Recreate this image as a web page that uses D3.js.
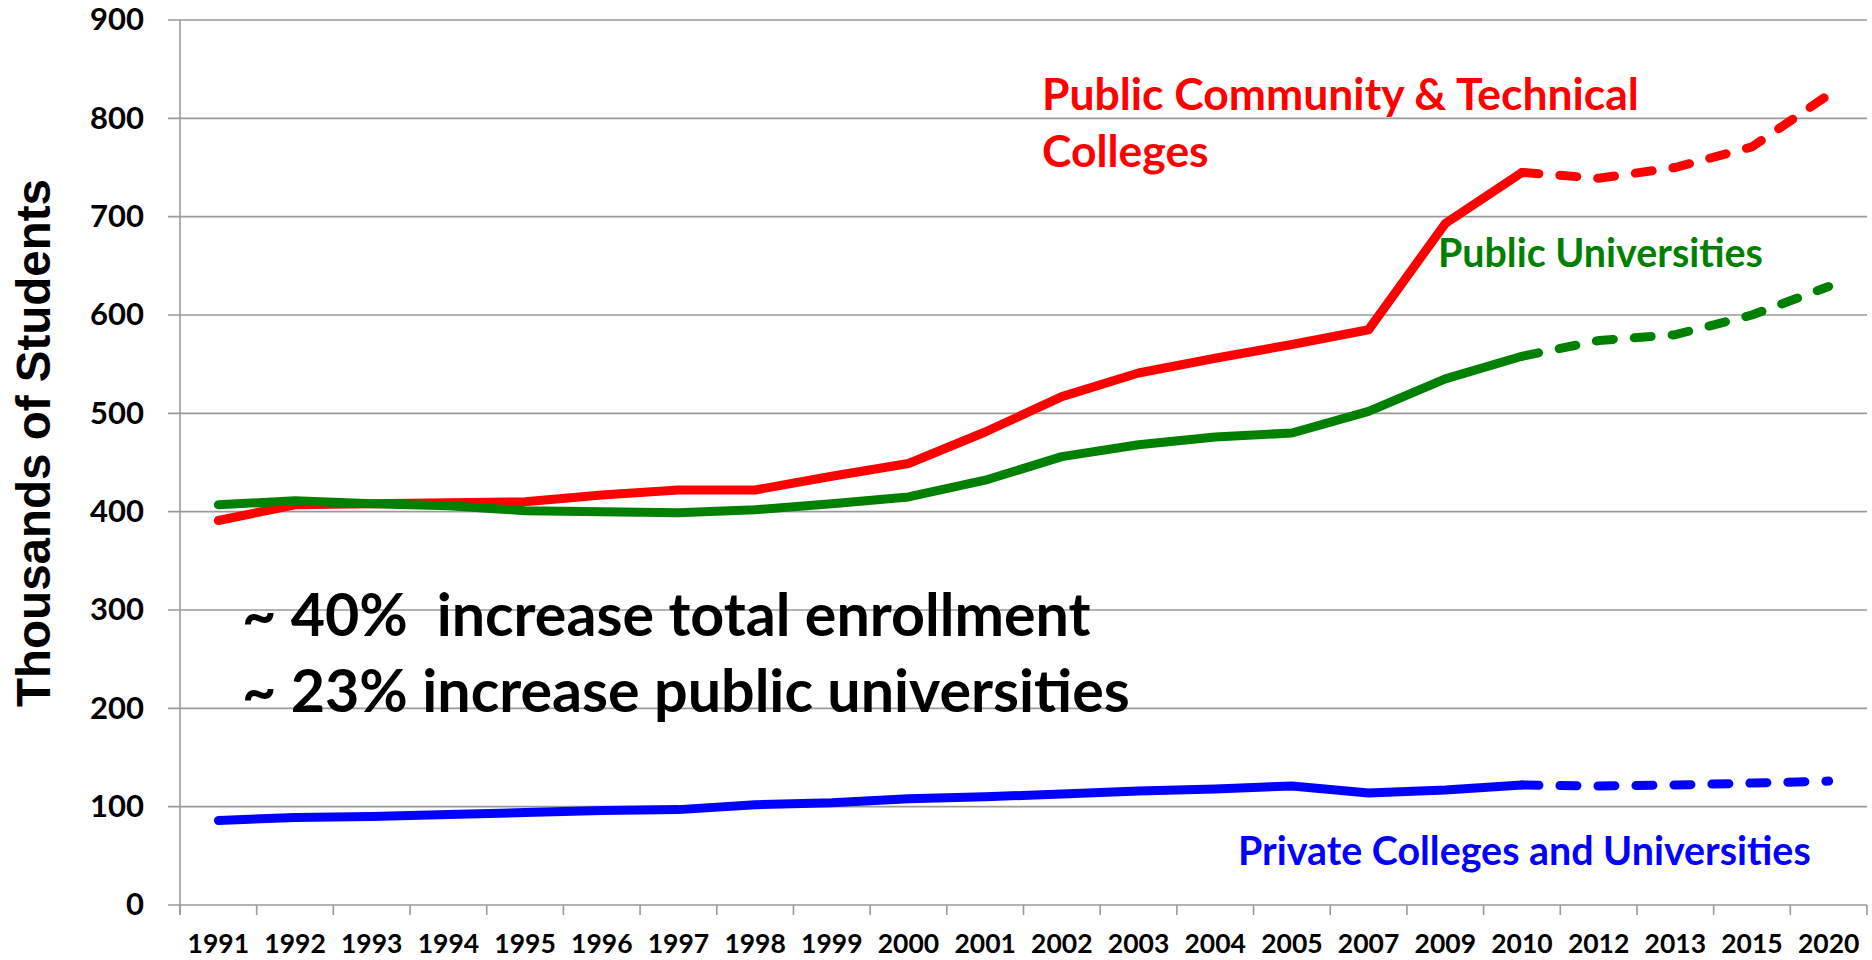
<!DOCTYPE html>
<html>
<head>
<meta charset="utf-8">
<script src="https://cdn.jsdelivr.net/npm/d3@7"></script>
<style>
  html, body { margin: 0; padding: 0; background: #fff; }
  svg { display: block; }
  text { white-space: pre; }
</style>
</head>
<body>
<svg id="chart" width="1872" height="960"></svg>
<script>
// ---------------- data ----------------
const categories = ["1991","1992","1993","1994","1995","1996","1997","1998","1999","2000",
  "2001","2002","2003","2004","2005","2007","2009","2010","2012","2013","2015","2020"];
const communityTechnical = [391, 407, 408, 409, 410, 417, 422, 422, 436, 449,
  481, 517, 541, 556, 570, 585, 693, 745, 739, 750, 771, 824];
const publicUniversities = [407, 411, 408, 406, 401, 400, 399, 402, 408, 415,
  432, 456, 468, 476, 480, 502, 535, 558, 574, 580, 600, 629];
const privateColleges = [86, 89, 90, 92, 94, 96, 97, 102, 104, 108,
  110, 113, 116, 118, 121, 114, 117, 122, 121, 122, 124, 126];
const yTicks = [0, 100, 200, 300, 400, 500, 600, 700, 800, 900];
const projectionFrom = "2010";
const yTitle = "Thousands of Students";
const seriesNames = {
  ct: ["Public Community & Technical", "Colleges"],
  pu: "Public Universities",
  pr: "Private Colleges and Universities"
};
const notes = ["~ 40%  increase total enrollment", "~ 23% increase public universities"];

// ---------------- layout ----------------
const svg = d3.select("#chart");
const L = 180, R = 1867, T = 20, B = 905;
const calib = "Lato, 'Open Sans', sans-serif";
const arialB = "'Liberation Sans', Arial, sans-serif";

const x = d3.scaleBand().domain(categories).range([L, R]).padding(0);
const y = d3.scaleLinear().domain([0, 900]).range([B, T]);
const bw = x.bandwidth();
const cx = c => x(c) + bw / 2;

// gridlines
svg.append("g").selectAll("line").data(yTicks).join("line")
  .attr("x1", L - 12).attr("x2", R)
  .attr("y1", d => y(d)).attr("y2", d => y(d))
  .attr("stroke", "#9a9a9a").attr("stroke-width", 1.6);

// y axis (labels)
const yAxis = svg.append("g").attr("transform", `translate(${L},0)`)
  .call(d3.axisLeft(y).tickValues(yTicks).tickSize(0).tickPadding(36).tickFormat(d3.format("d")));
yAxis.select(".domain").remove();
yAxis.selectAll("text").attr("font-family", calib).attr("font-weight", 700)
  .attr("font-size", 31).attr("fill", "#000");

// y axis line
svg.append("line").attr("x1", L).attr("x2", L).attr("y1", T).attr("y2", B + 10)
  .attr("stroke", "#9a9a9a").attr("stroke-width", 1.6);

// x ticks between categories
const bounds = d3.range(categories.length + 1).map(i => L + i * bw);
svg.append("g").selectAll("line").data(bounds).join("line")
  .attr("x1", d => d).attr("x2", d => d).attr("y1", B).attr("y2", B + 10)
  .attr("stroke", "#9a9a9a").attr("stroke-width", 1.6);

// x axis labels
const xAxis = svg.append("g").attr("transform", `translate(0,${B})`)
  .call(d3.axisBottom(x).tickSize(0).tickPadding(29));
xAxis.select(".domain").remove();
xAxis.selectAll("text").attr("font-family", calib).attr("font-weight", 700)
  .attr("font-size", 26.5).attr("fill", "#000");

// y title
const yt = svg.append("text").text(yTitle)
  .attr("font-family", arialB).attr("font-weight", 700).attr("font-size", 46)
  .attr("text-anchor", "middle").attr("fill", "#000")
  .attr("transform", `translate(50,443) rotate(-90)`);
function fit(sel, target) {
  const w = sel.node().getComputedTextLength();
  return parseFloat(sel.attr("font-size")) * target / w;
}
yt.attr("font-size", fit(yt, 528));

// lines
const series = [
  { vals: communityTechnical, color: "#ff0000" },
  { vals: publicUniversities, color: "#008000" },
  { vals: privateColleges, color: "#0000ff" }
];
const line = d3.line().x(d => cx(d.c)).y(d => y(d.v)).curve(d3.curveLinear);
const pIdx = categories.indexOf(projectionFrom);
series.forEach(s => {
  const pts = categories.map((c, i) => ({ c, v: s.vals[i] }));
  svg.append("path").datum(pts.slice(0, pIdx + 1)).attr("d", line)
    .attr("fill", "none").attr("stroke", s.color).attr("stroke-width", 9)
    .attr("stroke-linecap", "round").attr("stroke-linejoin", "round");
  svg.append("path").datum(pts.slice(pIdx)).attr("d", line)
    .attr("fill", "none").attr("stroke", s.color).attr("stroke-width", 9)
    .attr("stroke-linecap", "round").attr("stroke-linejoin", "round")
    .attr("stroke-dasharray", "17 21");
});

// series labels
function label(txt, px, py, color, size) {
  return svg.append("text").text(txt).attr("x", px).attr("y", py)
    .attr("font-family", calib).attr("font-weight", 700).attr("font-size", size)
    .attr("fill", color);
}
const ct1 = label(seriesNames.ct[0], 1042, 110, "#ff0000", 44);
const ctSize = fit(ct1, 597);
ct1.attr("font-size", ctSize);
label(seriesNames.ct[1], 1042, 167, "#ff0000", ctSize);

const pu = label(seriesNames.pu, 1438, 267, "#008000", 38);
pu.attr("font-size", fit(pu, 325));

const pr = label(seriesNames.pr, 1238, 865, "#0000ff", 38);
pr.attr("font-size", fit(pr, 573));

// annotation
const n2 = label(notes[1], 242, 712, "#000", 56);
const nSize = fit(n2, 888);
n2.attr("font-size", nSize);
label(notes[0], 242, 636, "#000", nSize);
</script>
</body>
</html>
